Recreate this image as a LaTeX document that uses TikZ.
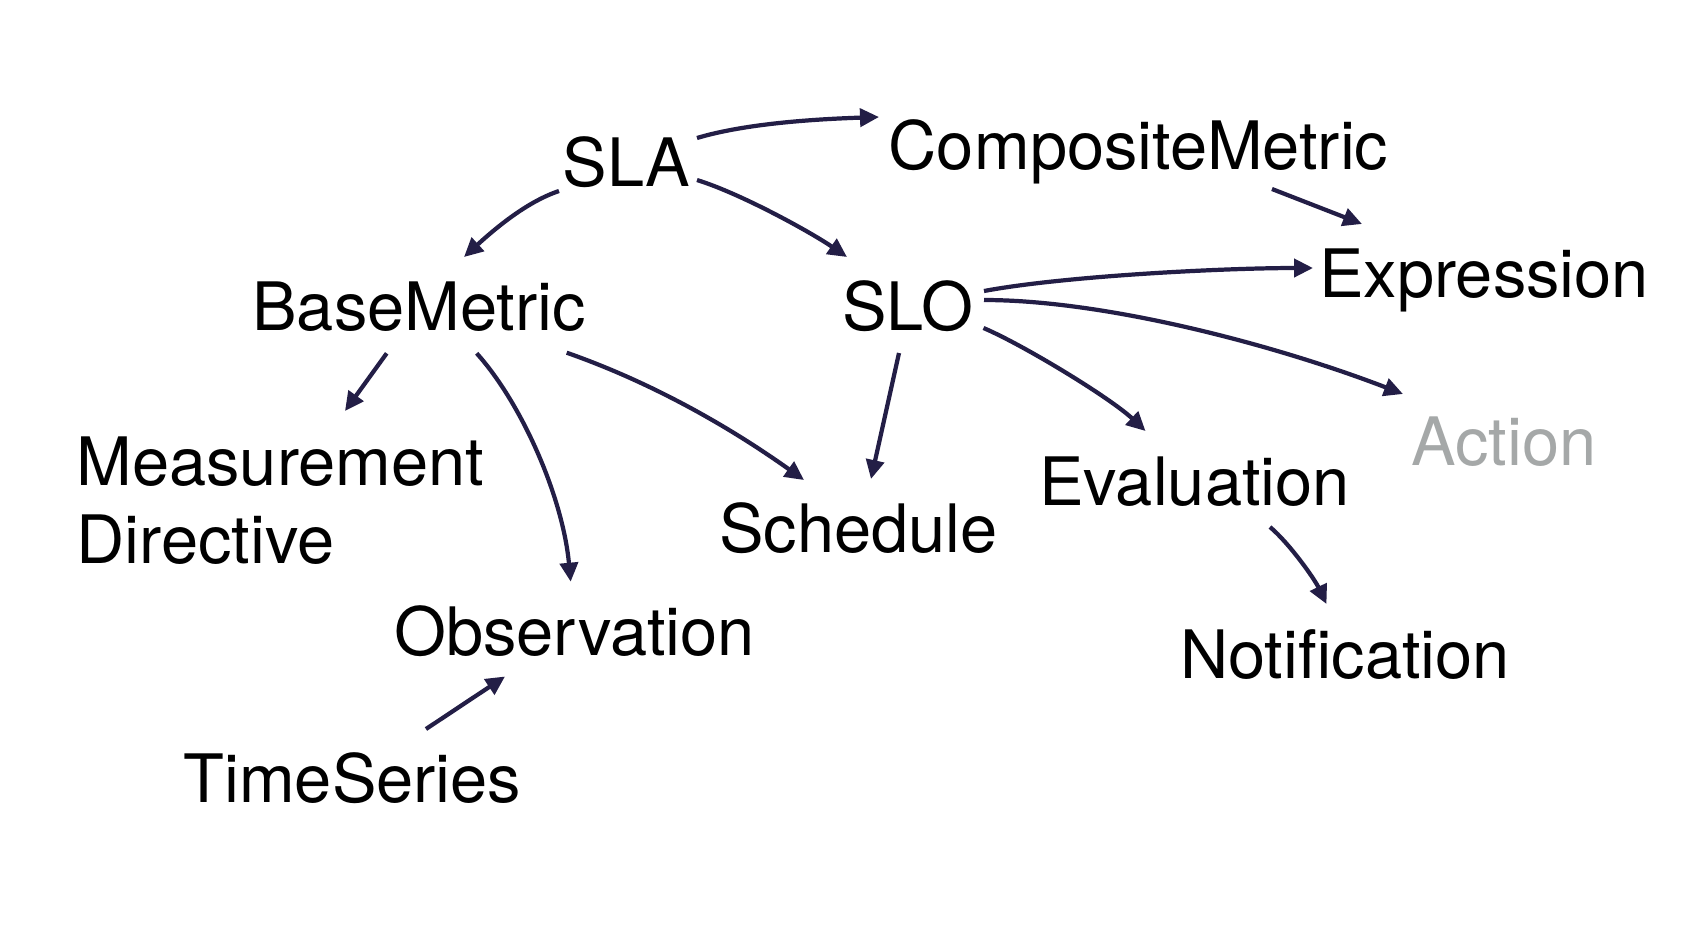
\documentclass[tikz,border=0pt]{standalone}
\usepackage{fontspec}
\setmainfont{TeX Gyre Heros}
\usetikzlibrary{arrows.meta}
\definecolor{arrowc}{RGB}{35,30,70}
\definecolor{grayc}{RGB}{165,168,168}
\tikzset{
  lbl/.style={inner sep=0pt, anchor=base, font=\fontsize{19pt}{22.2pt}\selectfont},
  arr/.style={draw=arrowc, line width=1.2pt, -{Triangle[length=1.9mm,width=1.8mm]}}
}
\begin{document}
\begin{tikzpicture}[x=0.1mm,y=-0.1mm]
\useasboundingbox[fill=white] (0,0) rectangle (1692,942);
\node[lbl] (SLA) at (626.5,186) {SLA};
\node[lbl] (Comp) at (1138.5,169) {CompositeMetric};
\node[lbl] (Expr) at (1484,297) {Expression};
\node[lbl] (Base) at (419,330) {BaseMetric};
\node[lbl] (SLO) at (907.5,330) {SLO};
\node[lbl, text=grayc] (Action) at (1504,465) {Action};
\node[lbl, anchor=west, align=left] (Meas) at (76,501) {Measurement\\Directive};
\node[lbl] (Sched) at (858.5,552) {Schedule};
\node[lbl] (Eval) at (1194.5,505) {Evaluation};
\node[lbl] (Obs) at (574.5,655) {Observation};
\node[lbl] (Notif) at (1345,678) {Notification};
\node[lbl] (TS) at (352.5,802) {TimeSeries};

\draw[arr] ([shift={(70.5,-48)}]SLA.base) .. controls +(50,-15) and +(-60,2) .. ([shift={(-259.5,-52)}]Comp.base);
\draw[arr] ([shift={(70.5,-6)}]SLA.base) .. controls +(45,14) and +(-35,-24) .. ([shift={(-60.5,-73)}]SLO.base);
\draw[arr] ([shift={(-67.5,5)}]SLA.base) .. controls +(-30,10) and +(35,-32) .. ([shift={(45,-73)}]Base.base);
\draw[arr] ([shift={(133.5,20)}]Comp.base) -- ([shift={(-122,-73)}]Expr.base);
\draw[arr] ([shift={(76.5,-39)}]SLO.base) .. controls +(80,-15) and +(-90,0) .. ([shift={(-171,-29)}]Expr.base);
\draw[arr] ([shift={(76.5,-30)}]SLO.base) .. controls +(120,0) and +(-130,-50) .. ([shift={(-101,-71)}]Action.base);
\draw[arr] ([shift={(-8.5,23)}]SLO.base) -- ([shift={(12.5,-73)}]Sched.base);
\draw[arr] ([shift={(76,-2)}]SLO.base) .. controls +(40,17) and +(-35,-33) .. ([shift={(-49,-74)}]Eval.base);
\draw[arr] ([shift={(-32.3,23.3)}]Base.base) -- ([shift={(269,-90)}]Meas.west);
\draw[arr] ([shift={(57.7,23.3)}]Base.base) .. controls +(45,50) and +(-8,-85) .. ([shift={(-3.8,-73.3)}]Obs.base);
\draw[arr] ([shift={(147.7,22.7)}]Base.base) .. controls +(80,28) and +(-80,-57) .. ([shift={(-54.5,-72)}]Sched.base);
\draw[arr] ([shift={(75.5,22)}]Eval.base) .. controls +(20,17) and +(-12,-25) .. ([shift={(-18.5,-74)}]Notif.base);
\draw[arr] ([shift={(73.5,-73)}]TS.base) -- ([shift={(-69.5,21.5)}]Obs.base);
\end{tikzpicture}
\end{document}
